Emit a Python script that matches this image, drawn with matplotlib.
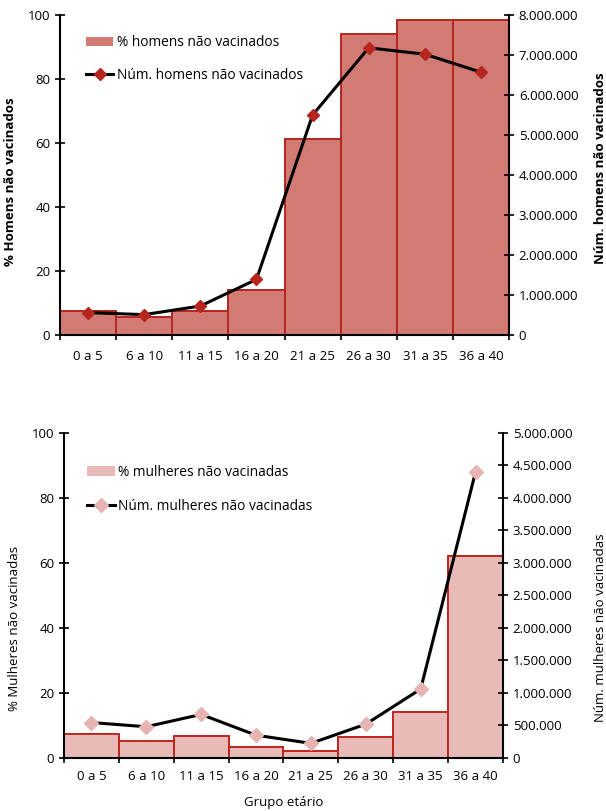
import numpy as np
import matplotlib
matplotlib.use("Agg")
import matplotlib.pyplot as plt
from matplotlib.patches import Patch
from matplotlib.lines import Line2D
from matplotlib.ticker import FuncFormatter

plt.rcParams["font.family"] = ["Open Sans", "DejaVu Sans"]
plt.rcParams["font.size"] = 9.5

# =============================================================================
# Data
# =============================================================================
grupos = ["0 a 5", "6 a 10", "11 a 15", "16 a 20", "21 a 25",
          "26 a 30", "31 a 35", "36 a 40"]

pct_homens = [7.6, 5.6, 7.4, 14.0, 61.2, 94.2, 98.4, 98.4]
num_homens = [560000, 510000, 725000, 1390000, 5500000, 7180000, 7020000, 6570000]

pct_mulheres = [7.3, 5.2, 6.7, 3.4, 2.2, 6.5, 14.0, 62.3]
num_mulheres = [545000, 480000, 670000, 350000, 225000, 520000, 1060000, 4400000]

# colours
fill_h, edge_h, mark_h = "#d27b74", "#b5261e", "#b5261e"
fill_m, edge_m, mark_m = "#e8bbb9", "#c0251c", "#e6b5b3"


def thousands(v, pos):
    return f"{int(round(v)):,}".replace(",", ".")


def draw_panel(rect, pct, num, fill, edge, mark, msize, ymax2, ystep2, xlab_pad):
    ax = fig.add_axes(rect)
    x = np.arange(len(grupos))
    ax.bar(x, pct, width=1.0, color=fill, edgecolor=edge, linewidth=1.4,
           zorder=2)
    ax.set_xlim(-0.5, len(grupos) - 0.5)
    ax.set_ylim(0, 100)
    ax.set_yticks(np.arange(0, 101, 20))
    ax.set_xticks(x)
    ax.set_xticklabels(grupos)
    ax.set_xticks(np.arange(-0.5, len(grupos), 1.0), minor=True)
    ax.tick_params(axis="x", which="major", length=0, pad=xlab_pad)
    ax.tick_params(axis="x", which="minor", direction="inout", length=7,
                   width=1.2)
    ax.tick_params(axis="y", direction="inout", length=7, width=1.2)
    for s in ["top", "right"]:
        ax.spines[s].set_visible(False)
    ax.spines["left"].set_linewidth(1.5)
    ax.spines["bottom"].set_linewidth(1.5)

    ax2 = ax.twinx()
    ax2.set_ylim(0, ymax2)
    ax2.set_yticks(np.arange(0, ymax2 + 1, ystep2))
    ax2.yaxis.set_major_formatter(FuncFormatter(thousands))
    ax2.tick_params(axis="y", direction="inout", length=7, width=1.2)
    for s in ["top", "left", "bottom"]:
        ax2.spines[s].set_visible(False)
    ax2.spines["right"].set_linewidth(1.5)
    ax2.plot(x, num, color="black", lw=2.2, solid_joinstyle="round",
             marker="D", markersize=msize, markerfacecolor=mark,
             markeredgecolor=mark, zorder=3)
    ax2.set_xlim(ax.get_xlim())
    return ax, ax2


fig = plt.figure(figsize=(6.06, 8.11), dpi=100)

# --- Top panel: homens ---
ax, ax2 = draw_panel([0.099, 0.5869, 0.741, 0.3946], pct_homens, num_homens,
                     fill_h, edge_h, mark_h, 6, 8000000, 1000000, 11)
ax.set_ylabel("% Homens não vacinados", fontweight="bold")
ax.yaxis.set_label_coords(-0.095, 0.48)
ax2.set_ylabel("Núm. homens não vacinados", fontweight="bold")
ax2.yaxis.set_label_coords(1.19, 0.52)
handles = [Patch(facecolor=fill_h, edgecolor="none"),
           Line2D([], [], color="black", lw=2.2, marker="D", markersize=6,
                  markerfacecolor=mark_h, markeredgecolor=mark_h)]
ax.legend(handles, ["% homens não vacinados", "Núm. homens não vacinados"],
          loc="upper left", bbox_to_anchor=(0.03, 0.975), frameon=False,
          handlelength=2.0, handletextpad=0.25, labelspacing=1.3,
          fontsize=9.9)

# --- Bottom panel: mulheres ---
bx, bx2 = draw_panel([0.1056, 0.0654, 0.7244, 0.4007], pct_mulheres,
                     num_mulheres, fill_m, edge_m, mark_m, 7.5, 5000000, 500000, 9)
bx.set_ylabel("% Mulheres não vacinadas")
bx.yaxis.set_label_coords(-0.097, 0.40)
bx2.set_ylabel("Núm. mulheres não vacinadas")
bx2.yaxis.set_label_coords(1.207, 0.40)
bx.set_xlabel("Grupo etário")
bx.xaxis.set_label_coords(0.5, -0.118)
handles = [Patch(facecolor=fill_m, edgecolor="none"),
           Line2D([], [], color="black", lw=2.2, marker="D", markersize=7.5,
                  markerfacecolor=mark_m, markeredgecolor=mark_m)]
bx.legend(handles, ["% mulheres não vacinadas", "Núm. mulheres não vacinadas"],
          loc="upper left", bbox_to_anchor=(0.025, 0.94), frameon=False,
          handlelength=2.0, handletextpad=0.25, labelspacing=1.4,
          fontsize=9.9)

fig.savefig("out.png", dpi=100)
